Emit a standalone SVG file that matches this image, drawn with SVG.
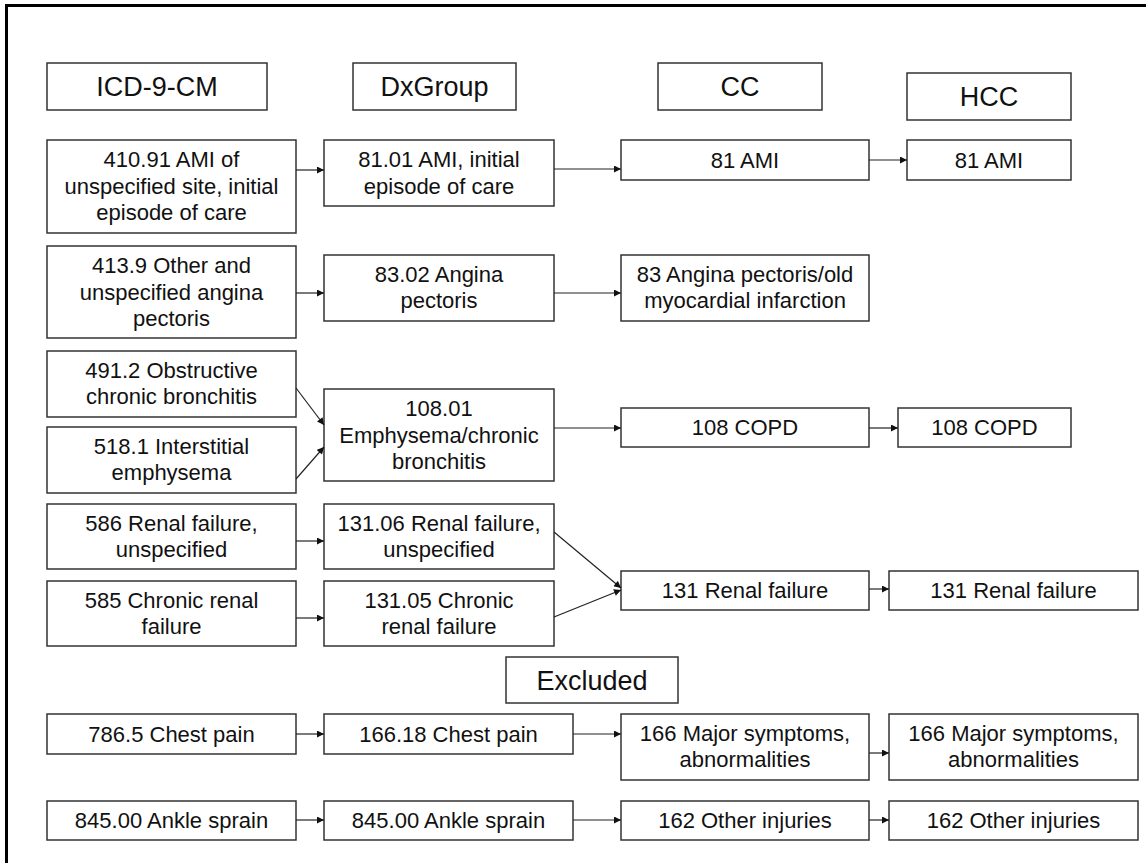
<svg xmlns="http://www.w3.org/2000/svg" width="1146" height="863" viewBox="0 0 1146 863">
<style>
.bg{fill:#ffffff}
.box{fill:#ffffff;stroke:#333333;stroke-width:1.5}
.t{font-family:"Liberation Sans",Arial,sans-serif;font-size:22px;fill:#111111;text-anchor:middle}
.h{font-family:"Liberation Sans",Arial,sans-serif;font-size:27px;fill:#111111;text-anchor:middle}
.c{stroke:#222222;stroke-width:1.2;fill:none;marker-end:url(#ah)}
.frame{fill:none;stroke:#000000;stroke-width:3}
</style>
<defs>
<marker id="ah" viewBox="0 0 10 10" refX="10" refY="5" markerWidth="8" markerHeight="7" markerUnits="userSpaceOnUse" orient="auto">
<path d="M0,0 L10,5 L0,10 Z" fill="#111111"/>
</marker>
</defs>
<rect class="bg" x="0" y="0" width="1146" height="863"/>
<path class="frame" d="M6.5,863 V5.5 H1146"/>

<g id="hdr-icd"><rect class="box" x="47" y="63" width="220" height="47"/><text class="h" x="157" y="96">ICD-9-CM</text></g>
<g id="hdr-dx"><rect class="box" x="353" y="63" width="163" height="47"/><text class="h" x="434.5" y="96">DxGroup</text></g>
<g id="hdr-cc"><rect class="box" x="658" y="63" width="164" height="47"/><text class="h" x="740" y="96">CC</text></g>
<g id="hdr-hcc"><rect class="box" x="907" y="73" width="164" height="47"/><text class="h" x="989" y="106">HCC</text></g>

<g id="icd-41091"><rect class="box" x="47" y="140" width="249" height="93"/><text class="t" x="171.5" y="167">410.91 AMI of</text><text class="t" x="171.5" y="194">unspecified site, initial</text><text class="t" x="171.5" y="220">episode of care</text></g>
<g id="dx-8101"><rect class="box" x="324" y="140" width="230" height="66"/><text class="t" x="439" y="167">81.01 AMI, initial</text><text class="t" x="439" y="194">episode of care</text></g>
<g id="cc-81"><rect class="box" x="621" y="140" width="248" height="40"/><text class="t" x="745" y="167.5">81 AMI</text></g>
<g id="hcc-81"><rect class="box" x="907" y="140" width="164" height="40"/><text class="t" x="989" y="167.5">81 AMI</text></g>

<g id="icd-4139"><rect class="box" x="47" y="246" width="249" height="92"/><text class="t" x="171.5" y="273">413.9 Other and</text><text class="t" x="171.5" y="300">unspecified angina</text><text class="t" x="171.5" y="326">pectoris</text></g>
<g id="dx-8302"><rect class="box" x="324" y="255" width="230" height="66"/><text class="t" x="439" y="282">83.02 Angina</text><text class="t" x="439" y="308">pectoris</text></g>
<g id="cc-83"><rect class="box" x="621" y="255" width="248" height="66"/><text class="t" x="745" y="282">83 Angina pectoris/old</text><text class="t" x="745" y="308">myocardial infarction</text></g>

<g id="icd-4912"><rect class="box" x="47" y="351" width="249" height="66"/><text class="t" x="171.5" y="378">491.2 Obstructive</text><text class="t" x="171.5" y="404">chronic bronchitis</text></g>
<g id="icd-5181"><rect class="box" x="47" y="427" width="249" height="66"/><text class="t" x="171.5" y="454">518.1 Interstitial</text><text class="t" x="171.5" y="480">emphysema</text></g>
<g id="dx-10801"><rect class="box" x="324" y="389" width="230" height="92"/><text class="t" x="439" y="416">108.01</text><text class="t" x="439" y="443">Emphysema/chronic</text><text class="t" x="439" y="469">bronchitis</text></g>
<g id="cc-108"><rect class="box" x="621" y="408" width="248" height="39"/><text class="t" x="745" y="435">108 COPD</text></g>
<g id="hcc-108"><rect class="box" x="898" y="408" width="173" height="39"/><text class="t" x="984.5" y="435">108 COPD</text></g>

<g id="icd-586"><rect class="box" x="47" y="504" width="249" height="65"/><text class="t" x="171.5" y="531">586 Renal failure,</text><text class="t" x="171.5" y="557">unspecified</text></g>
<g id="dx-13106"><rect class="box" x="324" y="504" width="230" height="65"/><text class="t" x="439" y="531">131.06 Renal failure,</text><text class="t" x="439" y="557">unspecified</text></g>
<g id="icd-585"><rect class="box" x="47" y="581" width="249" height="65"/><text class="t" x="171.5" y="608">585 Chronic renal</text><text class="t" x="171.5" y="634">failure</text></g>
<g id="dx-13105"><rect class="box" x="324" y="581" width="230" height="65"/><text class="t" x="439" y="608">131.05 Chronic</text><text class="t" x="439" y="634">renal failure</text></g>
<g id="cc-131"><rect class="box" x="621" y="571" width="248" height="39"/><text class="t" x="745" y="598">131 Renal failure</text></g>
<g id="hcc-131"><rect class="box" x="889" y="571" width="249" height="39"/><text class="t" x="1013.5" y="598">131 Renal failure</text></g>

<g id="hdr-excluded"><rect class="box" x="506" y="657" width="172" height="46"/><text class="h" x="592" y="690">Excluded</text></g>

<g id="icd-7865"><rect class="box" x="47" y="714" width="249" height="40"/><text class="t" x="171.5" y="741.5">786.5 Chest pain</text></g>
<g id="dx-16618"><rect class="box" x="324" y="714" width="249" height="40"/><text class="t" x="448.5" y="741.5">166.18 Chest pain</text></g>
<g id="cc-166"><rect class="box" x="621" y="714" width="248" height="66"/><text class="t" x="745" y="741">166 Major symptoms,</text><text class="t" x="745" y="767">abnormalities</text></g>
<g id="hcc-166"><rect class="box" x="889" y="714" width="249" height="66"/><text class="t" x="1013.5" y="741">166 Major symptoms,</text><text class="t" x="1013.5" y="767">abnormalities</text></g>

<g id="icd-84500"><rect class="box" x="47" y="801" width="249" height="39"/><text class="t" x="171.5" y="828">845.00 Ankle sprain</text></g>
<g id="dx-84500"><rect class="box" x="324" y="801" width="249" height="39"/><text class="t" x="448.5" y="828">845.00 Ankle sprain</text></g>
<g id="cc-162"><rect class="box" x="621" y="801" width="248" height="39"/><text class="t" x="745" y="828">162 Other injuries</text></g>
<g id="hcc-162"><rect class="box" x="889" y="801" width="249" height="39"/><text class="t" x="1013.5" y="828">162 Other injuries</text></g>

<g id="connectors">
<line class="c" x1="296" y1="170" x2="324" y2="170"/>
<line class="c" x1="554" y1="169" x2="621" y2="169"/>
<line class="c" x1="869" y1="160" x2="907" y2="160"/>
<line class="c" x1="296" y1="293" x2="324" y2="293"/>
<line class="c" x1="554" y1="293" x2="621" y2="293"/>
<line class="c" x1="296" y1="388" x2="324" y2="425"/>
<line class="c" x1="296" y1="479" x2="324" y2="447"/>
<line class="c" x1="554" y1="428" x2="621" y2="428"/>
<line class="c" x1="869" y1="428" x2="898" y2="428"/>
<line class="c" x1="296" y1="541" x2="324" y2="541"/>
<line class="c" x1="296" y1="618" x2="324" y2="618"/>
<line class="c" x1="554" y1="532" x2="621" y2="588"/>
<line class="c" x1="554" y1="617" x2="621" y2="590"/>
<line class="c" x1="869" y1="589" x2="889" y2="589"/>
<line class="c" x1="296" y1="734" x2="324" y2="734"/>
<line class="c" x1="573" y1="734" x2="621" y2="734"/>
<line class="c" x1="869" y1="753" x2="889" y2="753"/>
<line class="c" x1="296" y1="820" x2="324" y2="820"/>
<line class="c" x1="573" y1="820" x2="621" y2="820"/>
<line class="c" x1="869" y1="820" x2="889" y2="820"/>
</g>
</svg>
